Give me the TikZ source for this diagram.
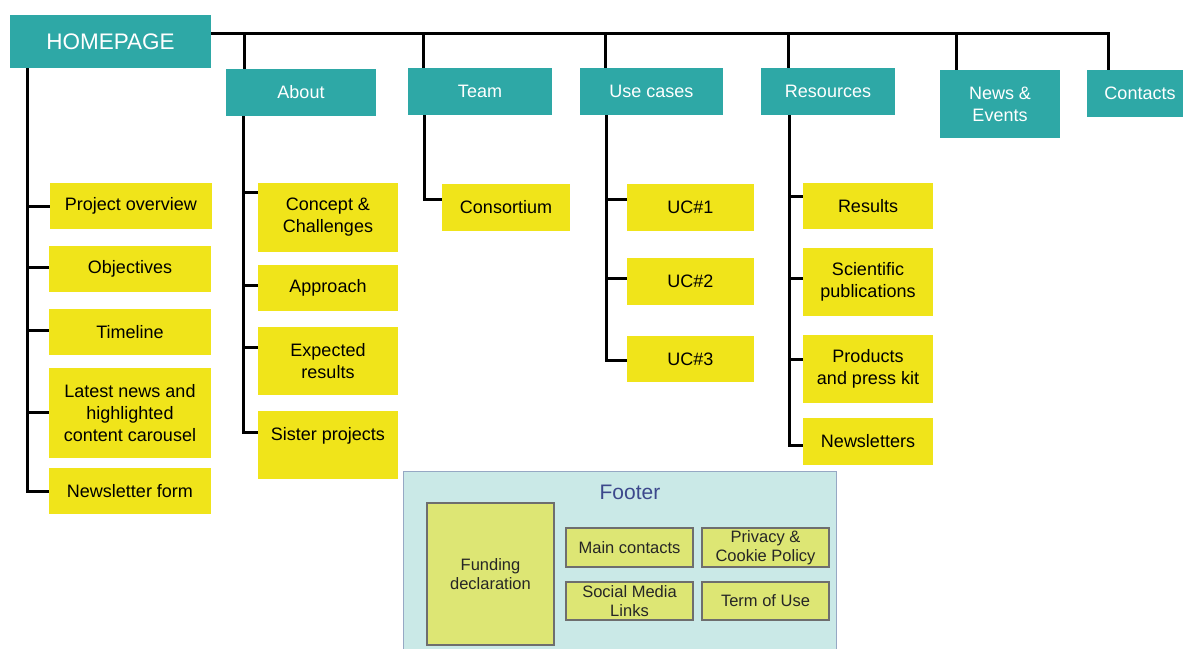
\documentclass[tikz,border=0pt]{standalone}
\usepackage{fontspec}
\setmainfont{Liberation Sans}
\definecolor{tealc}{RGB}{46,168,166}
\definecolor{yelc}{RGB}{240,228,26}
\definecolor{footbg}{RGB}{202,233,231}
\definecolor{footedge}{RGB}{150,168,196}
\definecolor{fyel}{RGB}{221,230,116}
\definecolor{fgray}{RGB}{110,110,110}
\definecolor{ftitle}{RGB}{60,72,140}
\begin{document}
\begin{tikzpicture}[x=1pt,y=-1pt,
  tealbox/.style={fill=tealc, text=white, inner sep=0pt, align=center, font=\fontsize{18}{22}\selectfont},
  yelbox/.style={fill=yelc, text=black, inner sep=0pt, align=center, font=\fontsize{18}{22}\selectfont},
  fbox/.style={fill=fyel, draw=fgray, line width=1.2pt, text=black!85, inner sep=0pt, align=center, font=\fontsize{16.5}{19.5}\selectfont},
  conn/.style={line width=3pt, black}]
\useasboundingbox (0,0) rectangle (1183,648);

% top level
\node[tealbox, minimum width=201pt, minimum height=53pt, font=\fontsize{22.5}{26}\selectfont] (home) at (110.5,41.5) {HOMEPAGE};
\node[tealbox, minimum width=150pt, minimum height=47pt] (about) at (301,92.5) {About};
\node[tealbox, minimum width=144pt, minimum height=47pt] (team) at (480,91.5) {Team};
\node[tealbox, minimum width=143pt, minimum height=47pt] (uc) at (651.5,91.5) {Use cases};
\node[tealbox, minimum width=134pt, minimum height=47pt] (res) at (828,91.5) {Resources};
\node[tealbox, minimum width=120pt, minimum height=68pt] (news) at (1000,104) {News \&\\Events};
\node[tealbox, minimum width=106pt, minimum height=47pt] (contacts) at (1140,93.5) {Contacts};

% homepage children
\node[yelbox, minimum width=162pt, minimum height=46pt] (pov) at (131,206) {Project overview};
\node[yelbox, minimum width=162pt, minimum height=46pt] (obj) at (130,269) {Objectives};
\node[yelbox, minimum width=162pt, minimum height=46pt] (tl) at (130,332) {Timeline};
\node[yelbox, minimum width=162pt, minimum height=90pt] (latest) at (130,413) {Latest news and\\highlighted\\content carousel};
\node[yelbox, minimum width=162pt, minimum height=46pt] (nform) at (130,491) {Newsletter form};

% about children
\node[yelbox, minimum width=140pt, minimum height=69pt] (concept) at (328,217.5) {Concept \&\\Challenges};
\node[yelbox, minimum width=140pt, minimum height=46pt] (appr) at (328,288) {Approach};
\node[yelbox, minimum width=140pt, minimum height=68pt] (exp) at (328,361) {Expected\\results};
\node[yelbox, minimum width=140pt, minimum height=68pt] (sister) at (328,445) {Sister projects\\\mbox{}};

% team children
\node[yelbox, minimum width=128pt, minimum height=47pt] (cons) at (506,207.5) {Consortium};

% use cases children
\node[yelbox, minimum width=127pt, minimum height=47pt] (uc1) at (690.5,207.5) {UC\#1};
\node[yelbox, minimum width=127pt, minimum height=47pt] (uc2) at (690.5,281.5) {UC\#2};
\node[yelbox, minimum width=127pt, minimum height=46pt] (uc3) at (690.5,359) {UC\#3};

% resources children
\node[yelbox, minimum width=130pt, minimum height=46pt] (results) at (868,206) {Results};
\node[yelbox, minimum width=130pt, minimum height=68pt] (sci) at (868,282) {Scientific\\publications};
\node[yelbox, minimum width=130pt, minimum height=68pt] (prod) at (868,369) {Products\\and press kit};
\node[yelbox, minimum width=130pt, minimum height=47pt] (nl) at (868,441.5) {Newsletters};

% footer
\node[fill=footbg, draw=footedge, line width=1pt, minimum width=433pt, minimum height=189pt, inner sep=0pt] (footer) at (619.5,565.5) {};
\node[text=ftitle, font=\fontsize{21}{25}\selectfont, inner sep=0pt] (ftitle) at (630,492) {Footer};
\node[fbox, minimum width=127pt, minimum height=142pt] (fund) at (490.5,574) {Funding\\declaration};
\node[fbox, minimum width=127pt, minimum height=39pt] (mainc) at (629.5,547.5) {Main contacts};
\node[fbox, minimum width=127pt, minimum height=39pt] (priv) at (765.5,547.5) {Privacy \&\\Cookie Policy};
\node[fbox, minimum width=127pt, minimum height=38pt] (social) at (629.5,601) {Social Media\\Links};
\node[fbox, minimum width=127pt, minimum height=38pt] (term) at (765.5,601) {Term of Use};

% bus
\coordinate (cT) at (1108,33);
\draw[conn] (home.east |- cT) -- (cT) -- (cT |- contacts.north);
\coordinate (vA) at (244,33);
\coordinate (vT) at (423,33);
\coordinate (vU) at (605,33);
\coordinate (vR) at (788,33);
\coordinate (vN) at (956,33);
\draw[conn] (vA) -- (vA |- about.north);
\draw[conn] (vT) -- (vT |- team.north);
\draw[conn] (vU) -- (vU |- uc.north);
\draw[conn] (vR) -- (vR |- res.north);
\draw[conn] (vN) -- (vN |- news.north);

% homepage trunk
\coordinate (tH) at (27,0);
\draw[conn] (tH |- home.south) |- (nform.west);
\coordinate (bPO) at (pov.west);
\coordinate (bOB) at ([yshift=2pt]obj.west);
\coordinate (bTL) at ([yshift=2pt]tl.west);
\coordinate (bLN) at ([yshift=1pt]latest.west);
\draw[conn] (bPO -| tH) -- (bPO);
\draw[conn] (bOB -| tH) -- (bOB);
\draw[conn] (bTL -| tH) -- (bTL);
\draw[conn] (bLN -| tH) -- (bLN);

% about trunk
\coordinate (tA) at (243,0);
\coordinate (bCC) at ([yshift=25.5pt]concept.west);
\coordinate (bAP) at ([yshift=3pt]appr.west);
\coordinate (bEX) at ([yshift=14pt]exp.west);
\coordinate (bSI) at ([yshift=13pt]sister.west);
\draw[conn] (tA |- about.south) |- (bSI);
\draw[conn] (bCC -| tA) -- (bCC);
\draw[conn] (bAP -| tA) -- (bAP);
\draw[conn] (bEX -| tA) -- (bEX);

% team trunk
\coordinate (tT) at (424,0);
\coordinate (bCO) at ([yshift=8.5pt]cons.west);
\draw[conn] (tT |- team.south) |- (bCO);

% use cases trunk
\coordinate (tU) at (606,0);
\coordinate (bU1) at ([yshift=8.5pt]uc1.west);
\coordinate (bU2) at ([yshift=3.5pt]uc2.west);
\coordinate (bU3) at ([yshift=-1pt]uc3.west);
\draw[conn] (tU |- uc.south) |- (bU3);
\draw[conn] (bU1 -| tU) -- (bU1);
\draw[conn] (bU2 -| tU) -- (bU2);

% resources trunk
\coordinate (tR) at (789,0);
\coordinate (bRE) at ([yshift=10pt]results.west);
\coordinate (bSC) at ([yshift=4pt]sci.west);
\coordinate (bPR) at ([yshift=10pt]prod.west);
\coordinate (bNL) at ([yshift=-3.5pt]nl.west);
\draw[conn] (tR |- res.south) |- (bNL);
\draw[conn] (bRE -| tR) -- (bRE);
\draw[conn] (bSC -| tR) -- (bSC);
\draw[conn] (bPR -| tR) -- (bPR);
\end{tikzpicture}
\end{document}
